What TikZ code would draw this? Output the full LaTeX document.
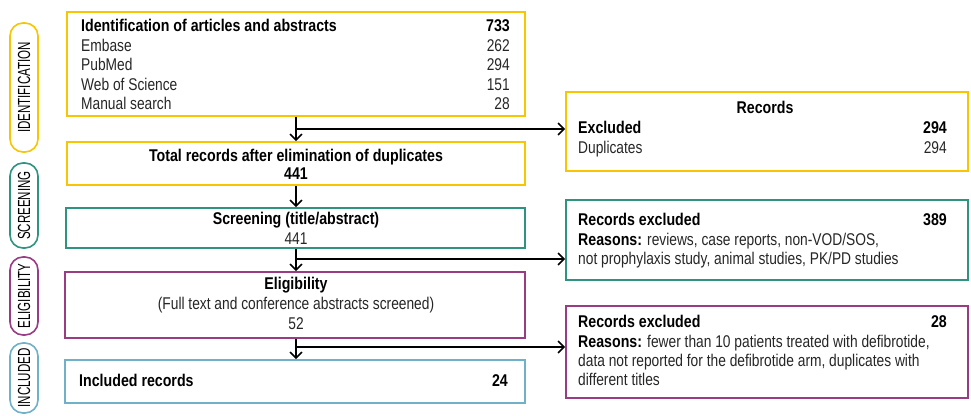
\documentclass[tikz,border=0pt]{standalone}
\usepackage{fontspec}
\setmainfont{Liberation Sans}[FakeStretch=0.81, BoldFeatures={FakeStretch=0.835}]
\newfontfamily\pillfont{Liberation Sans}[FakeStretch=0.66]
\usetikzlibrary{fit,arrows.meta}
\definecolor{cyel}{HTML}{F7C600}
\definecolor{cteal}{HTML}{2E9480}
\definecolor{cpurp}{HTML}{9A3C83}
\definecolor{cblue}{HTML}{70B0C8}
\definecolor{ctext}{HTML}{262626}
\tikzset{
  box/.style={draw, line width=1.6pt, inner sep=0pt, fit={#1}},
  pill/.style={draw, line width=1.6pt, rounded corners=13pt, inner sep=0pt},
  pilltext/.style={rotate=90, font=\pillfont\fontsize{17.5}{19}\selectfont, inner sep=0pt, text=black},
  txt/.style={inner sep=0pt, font=\fontsize{17}{19}\selectfont, text=ctext},
  btxt/.style={inner sep=0pt, font=\fontsize{17}{19}\selectfont\bfseries, text=black},
  conn/.style={line width=1.6pt, -{Straight Barb[length=6pt,width=12pt]}}
}
\begin{document}
\begin{tikzpicture}[x=1pt,y=-1pt]
\useasboundingbox (0,0) rectangle (971,415);
% pills
\node[pill, draw=cyel, fit={(10,23) (38,152)}] (p1) {};
\node[pilltext] at (p1.center) {IDENTIFICATION};
\node[pill, draw=cteal, fit={(10,163) (38,248)}] (p2) {};
\node[pilltext] at (p2.center) {SCREENING};
\node[pill, draw=cpurp, fit={(10,257) (38,335)}] (p3) {};
\node[pilltext] at (p3.center) {ELIGIBILITY};
\node[pill, draw=cblue, fit={(10,343) (38,413)}] (p4) {};
\node[pilltext] at (p4.center) {INCLUDED};
% left boxes
\node[box={(67,12) (525,116)}, draw=cyel] (b1) {};
\node[box={(67,142) (525,185)}, draw=cyel] (b2) {};
\node[box={(66,208) (525,248)}, draw=cteal] (b3) {};
\node[box={(65,272) (525,338)}, draw=cpurp] (b4) {};
\node[box={(65,360) (525,403)}, draw=cblue] (b5) {};
% right boxes
\node[box={(566,92) (968,171)}, draw=cyel] (r1) {};
\node[box={(566,200) (968,280)}, draw=cteal] (r2) {};
\node[box={(566,306) (968,398)}, draw=cpurp] (r3) {};
% b1 text
\node[btxt, anchor=base west] (t11) at (81,31) {Identification of articles and abstracts};
\node[btxt, anchor=base east] (t12) at (510,31) {733};
\node[txt, anchor=base west] (t13) at (81,51) {Embase};
\node[txt, anchor=base east] (t14) at (510,51) {262};
\node[txt, anchor=base west] (t15) at (81,70.5) {PubMed};
\node[txt, anchor=base east] (t16) at (510,70.5) {294};
\node[txt, anchor=base west] (t17) at (81,90) {Web of Science};
\node[txt, anchor=base east] (t18) at (510,90) {151};
\node[txt, anchor=base west] (t19) at (81,109.5) {Manual search};
\node[txt, anchor=base east] (t1a) at (510,109.5) {28};
% b2 text
\node[btxt, anchor=base] (t21) at (296,161) {Total records after elimination of duplicates};
\node[btxt, anchor=base] (t22) at (296,179) {441};
% b3 text
\node[btxt, anchor=base] (t31) at (296,224) {Screening (title/abstract)};
\node[txt, anchor=base] (t32) at (296,244) {441};
% b4 text
\node[btxt, anchor=base] (t41) at (296,289.5) {Eligibility};
\node[txt, anchor=base] (t42) at (296,309.5) {(Full text and conference abstracts screened)};
\node[txt, anchor=base] (t43) at (296,329.5) {52};
% b5 text
\node[btxt, anchor=base west] (t51) at (79,386.5) {Included records};
\node[btxt, anchor=base east] (t52) at (508,386.5) {24};
% r1 text
\node[btxt, anchor=base] (u11) at (765,113) {Records};
\node[btxt, anchor=base west] (u12) at (578,133) {Excluded};
\node[btxt, anchor=base east] (u13) at (947,133) {294};
\node[txt, anchor=base west] (u14) at (578,153) {Duplicates};
\node[txt, anchor=base east] (u15) at (947,153) {294};
% r2 text
\node[btxt, anchor=base west] (u21) at (578,225.5) {Records excluded};
\node[btxt, anchor=base east] (u22) at (947,225.5) {389};
\node[txt, anchor=base west] (u23) at (578,245) {\textbf{\color{black}Reasons:} reviews, case reports, non-VOD/SOS,};
\node[txt, anchor=base west] (u24) at (578,264.5) {not prophylaxis study, animal studies, PK/PD studies};
% r3 text
\node[btxt, anchor=base west] (u31) at (578,327) {Records excluded};
\node[btxt, anchor=base east] (u32) at (947,327) {28};
\node[txt, anchor=base west] (u33) at (578,347) {\textbf{\color{black}Reasons:} fewer than 10 patients treated with defibrotide,};
\node[txt, anchor=base west] (u34) at (578,366) {data not reported for the defibrotide arm, duplicates with};
\node[txt, anchor=base west] (u35) at (578,385.5) {different titles};
% connectors
\coordinate (j1) at (296,129);
\coordinate (j2) at (296,259);
\coordinate (j3) at (296,347);
\draw[conn] (b1.south -| j1) -- (b2.north -| j1);
\draw[conn] (j1) -- (j1 -| r1.west);
\draw[conn] (b2.south -| j1) -- (b3.north -| j1);
\draw[conn] (b3.south -| j2) -- (b4.north -| j2);
\draw[conn] (j2) -- (j2 -| r2.west);
\draw[conn] (b4.south -| j3) -- (b5.north -| j3);
\draw[conn] (j3) -- (j3 -| r3.west);
\end{tikzpicture}
\end{document}
